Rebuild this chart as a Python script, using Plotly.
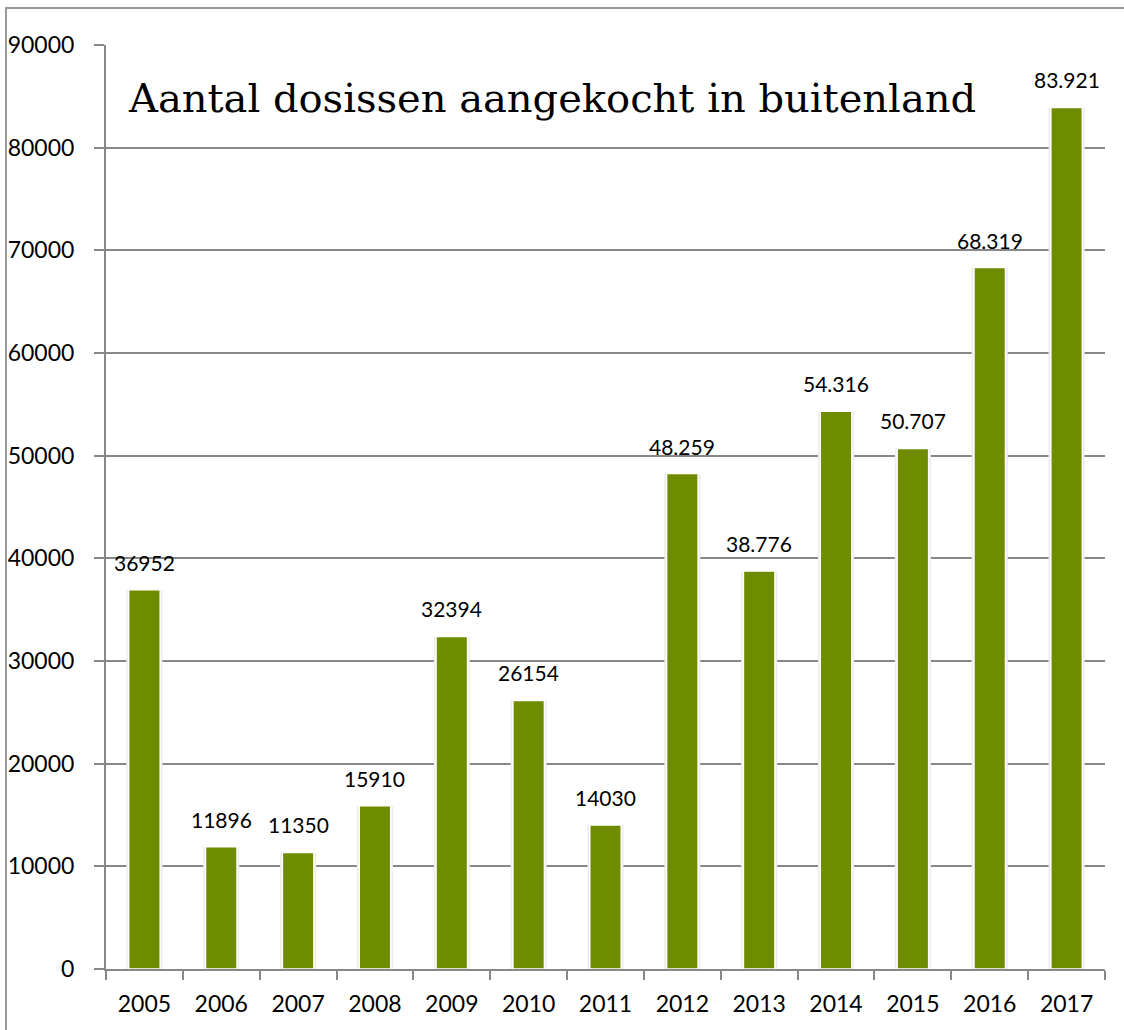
import plotly.graph_objects as go

years = ["2005", "2006", "2007", "2008", "2009", "2010", "2011",
         "2012", "2013", "2014", "2015", "2016", "2017"]
values = [36952, 11896, 11350, 15910, 32394, 26154, 14030,
          48259, 38776, 54316, 50707, 68319, 83921]
value_labels = ["36952", "11896", "11350", "15910", "32394", "26154", "14030",
                "48.259", "38.776", "54.316", "50.707", "68.319", "83.921"]
title_text = "Aantal dosissen aangekocht in buitenland"

W, H = 1124, 1030
L, R, T, B = 106, 19, 45, 61
pw, ph = W - L - R, H - T - B

fig = go.Figure()
# soft shadow behind bars
fig.add_trace(go.Bar(
    x=years, y=values, width=0.47,
    marker=dict(color="#ececec", line=dict(width=0)),
    showlegend=False, hoverinfo="skip",
))
fig.add_trace(go.Bar(
    x=years, y=values, width=0.41,
    marker=dict(color="#6f8c00", line=dict(color="#ffffff", width=1.5)),
    showlegend=False, hoverinfo="skip",
))

for i, (v, lab) in enumerate(zip(values, value_labels)):
    fig.add_annotation(x=i, y=v, text=lab, showarrow=False,
                       yanchor="bottom", yshift=13,
                       font=dict(family="Lato", size=21, color="#000000"))

fig.add_annotation(xref="paper", yref="paper", x=(126 - L) / pw, y=(969 - 98) / ph,
                   xanchor="left", yanchor="middle", text=title_text, showarrow=False,
                   font=dict(family="DejaVu Serif", size=40, color="#000000"))

# outer frame (left and top edges visible)
fig.add_shape(type="rect", xref="paper", yref="paper", layer="below",
              x0=(6 - L) / pw, x1=(1140 - L) / pw, y0=(969 - 1040) / ph, y1=(969 - 8) / ph,
              line=dict(color="#999999", width=2), fillcolor="rgba(0,0,0,0)")

fig.update_layout(
    width=W, height=H,
    margin=dict(l=L, r=R, t=T, b=B, pad=0, autoexpand=False),
    paper_bgcolor="#ffffff", plot_bgcolor="rgba(0,0,0,0)",
    barmode="overlay",
    font=dict(family="Lato", size=20, color="#000000"),
)
fig.update_xaxes(
    type="category", range=[-0.5, len(years) - 0.5], automargin=False,
    showgrid=False, showline=True, linecolor="#878787", linewidth=2,
    ticks="outside", tickson="boundaries", ticklen=9, tickcolor="#878787", tickwidth=2,
    tickfont=dict(family="Lato", size=23, color="#000000"), ticklabelstandoff=13,
    tickangle=0,
)
fig.update_yaxes(
    range=[0, 90000], dtick=10000, showgrid=True, gridcolor="#878787", gridwidth=1.5,
    automargin=False,
    showline=True, linecolor="#878787", linewidth=2, zeroline=False,
    ticks="outside", ticklen=10, tickcolor="#878787", tickwidth=2,
    tickfont=dict(family="Lato", size=23, color="#000000"), tickformat="d",
    ticklabelstandoff=15,
)

fig.write_html("out.html", config={"displayModeBar": False},
               post_script="document.body.style.margin='0';")
